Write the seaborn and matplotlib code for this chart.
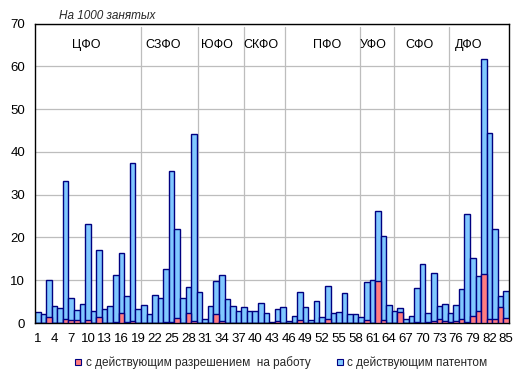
import matplotlib
matplotlib.use('Agg')
from matplotlib import pyplot as plt
from matplotlib.lines import Line2D
import pandas as pd
import seaborn as sns

# регионы 1..85, на 1000 занятых
regions = list(range(1, 86))
permit = [0.1, 0.1, 1.4, 0.1, 0.1, 0.9, 0.6, 0.6, 0.1, 0.6,
          0.1, 1.4, 0.1, 0.1, 0.2, 2.3, 0.2, 0.4, 0.1, 0.1,
          0.1, 0.1, 0.1, 0.2, 0.2, 1.2, 0.1, 2.3, 0.4, 0.1,
          0.1, 0.1, 2.0, 0.4, 0.1, 0.1, 0.1, 0.1, 0.1, 0.1,
          0.1, 0.1, 0.1, 0.4, 0.1, 0.1, 0.1, 0.6, 0.1, 0.1,
          0.1, 0.1, 0.9, 0.1, 0.1, 0.1, 0.1, 0.1, 0.1, 0.6,
          0.1, 9.8, 0.6, 0.1, 0.1, 2.6, 0.1, 0.1, 0.2, 0.1,
          0.2, 0.4, 0.9, 0.4, 0.2, 0.4, 0.9, 0.2, 1.6, 2.8,
          11.5, 0.9, 0.9, 3.8, 1.2]
patent = [2.5, 2.0, 8.6, 3.9, 3.4, 32.4, 5.3, 2.4, 4.4, 22.6,
          2.7, 15.7, 3.2, 3.9, 11.0, 14.1, 6.1, 36.9, 3.2, 4.1,
          2.0, 6.5, 5.8, 12.5, 35.4, 20.8, 5.8, 6.1, 43.7, 7.2,
          0.8, 3.9, 7.8, 10.8, 5.5, 3.9, 2.7, 3.6, 2.7, 2.7,
          4.6, 2.2, 0.1, 2.9, 3.6, 0.4, 1.5, 6.7, 3.6, 0.6,
          5.1, 1.3, 7.8, 2.2, 2.5, 6.9, 2.0, 2.0, 1.3, 9.0,
          10.0, 16.3, 19.8, 4.1, 2.7, 0.9, 0.8, 1.5, 8.0, 13.7,
          2.1, 11.3, 3.1, 4.1, 2.1, 3.8, 7.1, 25.3, 13.6, 8.2,
          50.1, 43.4, 21.1, 2.5, 6.3]
districts = ['ЦФО', 'СЗФО', 'ЮФО', 'СКФО', 'ПФО', 'УФО', 'СФО', 'ДФО']

df = pd.DataFrame({'region': [str(r) for r in regions],
                   'permit': permit, 'patent': patent})
df['total'] = df['permit'] + df['patent']

sns.set_style('white')
plt.rcParams['font.family'] = ['Liberation Sans', 'DejaVu Sans']

blue = '#80C8FF'
red = '#FF7C80'
edge = '#000080'

fig = plt.figure(figsize=(5.21, 3.77), dpi=100)
ax = fig.add_axes([35/521, 1 - 323/377, 474/521, 299.5/377])

# separators between districts and label positions (in bar units)
sep_pos = [19.06, 29.3, 37.4, 44.8, 58.3, 64.3, 74.3]
label_pos = [9.15, 22.96, 32.6, 40.5, 52.3, 60.6, 69.0, 77.7]

ax.set_axisbelow(True)
ax.yaxis.grid(True, color='#BDBDBD', linewidth=0.9)
for s in sep_pos:
    ax.plot([s - 0.5, s - 0.5], [0, 69.2], color='#BDBDBD', linewidth=0.9, zorder=0.5)

sns.barplot(data=df, x='region', y='total', color=blue, saturation=1,
            width=1, edgecolor=edge, linewidth=1, ax=ax, zorder=2)
sns.barplot(data=df, x='region', y='permit', color=red, saturation=1,
            width=1, edgecolor=edge, linewidth=1, ax=ax, zorder=3)

for name, p in zip(districts, label_pos):
    ax.text(p - 0.5, 65, name, ha='center', va='center', fontsize=9, color='black')

ax.set_xlim(-0.5, 84.5)
ax.set_ylim(0, 70)
ax.set_yticks(range(0, 71, 10))
ax.set_xticks(range(0, 85, 3))
ax.set_xticklabels([str(r) for r in regions[::3]])
ax.tick_params(axis='both', length=0, labelsize=9.5, colors='black')
ax.tick_params(axis='y', pad=7)
ax.tick_params(axis='x', pad=7)
ax.set_xlabel('')
ax.set_ylabel('')
for sp in ax.spines.values():
    sp.set_visible(True)
    sp.set_color('black')
    sp.set_linewidth(1)

ax.text(0.152, 1.025, 'На 1000 занятых', transform=ax.transAxes, ha='center',
        va='center', fontsize=8.5, style='italic')

handles = [Line2D([], [], marker='s', linestyle='', markersize=5,
                  markerfacecolor=red, markeredgecolor=edge, markeredgewidth=0.8),
           Line2D([], [], marker='s', linestyle='', markersize=5,
                  markerfacecolor=blue, markeredgecolor=edge, markeredgewidth=0.8)]
fig.legend(handles, ['с действующим разрешением  на работу', 'с действующим патентом'],
           loc='center', bbox_to_anchor=(0.537, 0.038), ncol=2, frameon=False,
           fontsize=8.5, handletextpad=0.1, columnspacing=2.0, handlelength=1)

fig.savefig('out.png', dpi=100)
